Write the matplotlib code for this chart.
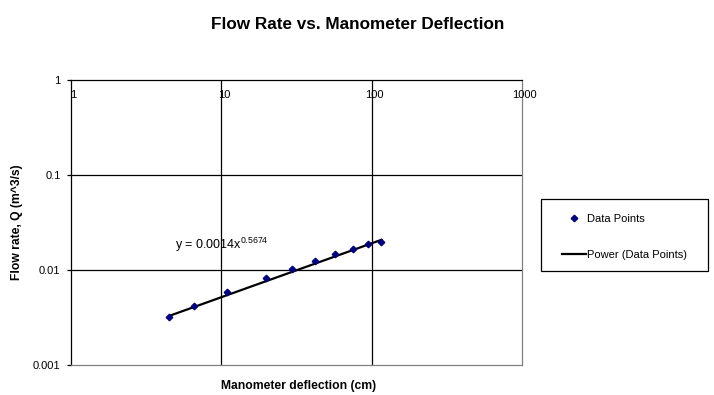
import numpy as np
import matplotlib
matplotlib.use("Agg")
import matplotlib.pyplot as plt
from matplotlib.lines import Line2D
from matplotlib.patches import Rectangle

plt.rcParams['font.family'] = ['Liberation Sans', 'DejaVu Sans']
plt.rcParams['mathtext.fontset'] = 'custom'
plt.rcParams['mathtext.rm'] = 'Liberation Sans'

# Data
deflection_cm = [4.49, 6.61, 10.96, 19.8, 29.7, 41.8, 57.1, 75.5, 94.2, 116.0]
flow_rate = [0.0032, 0.00418, 0.00592, 0.00816, 0.01016, 0.01236, 0.01472, 0.01652, 0.0188, 0.0199]
fit_coef = 0.0014
fit_exp = 0.5674
x_ticks = [1, 10, 100, 1000]
x_tick_labels = ['1', '10', '100', '1000']
y_ticks = [0.001, 0.01, 0.1, 1]
y_tick_labels = ['0.001', '0.01', '0.1', '1']

W, H = 714, 395
fig = plt.figure(figsize=(W / 100, H / 100), dpi=100)
ax = fig.add_axes([71 / W, 1 - 365 / H, (522 - 71) / W, (365 - 80) / H])
ax.set_xscale('log')
ax.set_yscale('log')
ax.set_xlim(1, 1000)
ax.set_ylim(0.001, 1)

# grid lines
for xv in x_ticks[1:-1]:
    ax.axvline(xv, color='black', lw=0.9, zorder=1)
for yv in y_ticks[1:-1]:
    ax.axhline(yv, color='black', lw=0.9, zorder=1)

# spines
ax.spines['top'].set_color('black')
ax.spines['left'].set_color('black')
ax.spines['right'].set_color('#808080')
ax.spines['bottom'].set_color('#808080')
for s in ax.spines.values():
    s.set_linewidth(0.9)

# ticks
ax.set_xticks([])
ax.set_xticks([], minor=True)
ax.set_yticks(y_ticks)
ax.set_yticklabels(y_tick_labels)
ax.set_yticks([], minor=True)
ax.tick_params(axis='y', direction='out', length=3, width=0.9, labelsize=8, pad=4.5)

for xv, lbl in zip(x_ticks, x_tick_labels):
    ax.annotate(lbl, xy=(xv, 1), xycoords=('data', 'axes fraction'),
                xytext=(1.8, -7), textcoords='offset points',
                ha='center', va='top', fontsize=8)

# trend line
xs = np.logspace(np.log10(min(deflection_cm)), np.log10(max(deflection_cm)), 100)
ys = fit_coef * xs ** fit_exp
ax.plot(xs, ys, color='black', lw=1.6, zorder=3)
ax.plot(deflection_cm, flow_rate, linestyle='none', marker='D', markersize=3.3,
        color='#000080', zorder=4)

ax.text(4.92, 0.01663, 'y = 0.0014x$^{\\mathregular{0.5674}}$', fontsize=9,
        ha='left', va='baseline')

ax.set_xlabel('Manometer deflection (cm)', fontsize=8.7, fontweight='bold')
ax.xaxis.set_label_coords(0.5055, -0.0526)
ax.xaxis.label.set_va('top')
ax.set_ylabel('Flow rate, Q (m^3/s)', fontsize=8.7, fontweight='bold')
ax.yaxis.set_label_coords(-0.106, 0.5)

fig.text(357.5 / W, 1 - 24.5 / H, 'Flow Rate vs. Manometer Deflection', fontsize=12.3,
         fontweight='bold', ha='center', va='center')

# legend
fig.add_artist(Rectangle((541 / W, 1 - 271 / H), (708 - 541) / W, (271 - 199) / H,
                         transform=fig.transFigure, facecolor='white',
                         edgecolor='black', lw=0.9, zorder=5))
handles = [Line2D([], [], linestyle='none', marker='D', markersize=3.3, color='#000080'),
           Line2D([], [], color='black', lw=1.6)]
leg = fig.legend(handles, ['Data Points', 'Power (Data Points)'],
                 loc='upper left', bbox_to_anchor=(562 / W, 1 - 213.5 / H),
                 fontsize=8, frameon=False, labelspacing=2.4,
                 handlelength=2.2, handletextpad=0.05, borderpad=0, borderaxespad=0)
leg.set_zorder(6)

fig.savefig('out.png', dpi=100)
